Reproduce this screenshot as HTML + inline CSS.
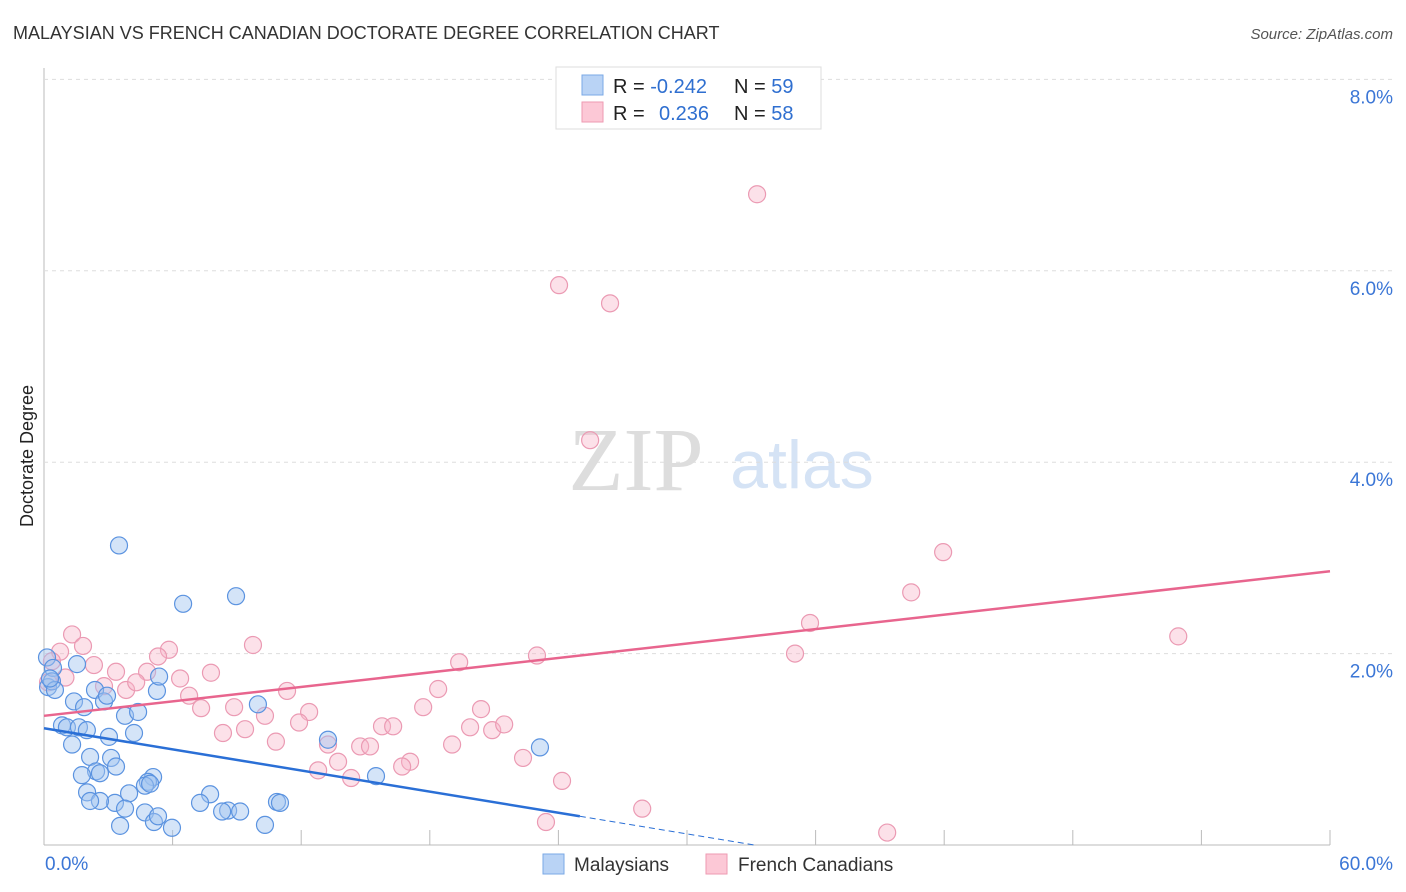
<!DOCTYPE html>
<html><head><meta charset="utf-8"><style>
body{margin:0;background:#fff;font-family:"Liberation Sans",sans-serif;}
#wrap{position:relative;width:1406px;height:892px;overflow:hidden}
</style></head><body>
<div id="wrap">
<svg id="svg" width="1406" height="892">
<text x="13" y="39" font-size="18" fill="#333">MALAYSIAN VS FRENCH CANADIAN DOCTORATE DEGREE CORRELATION CHART</text>
<text x="1393" y="39" font-size="15" fill="#555" font-style="italic" text-anchor="end">Source: ZipAtlas.com</text>
<text x="0" y="0" font-size="18" fill="#222" transform="translate(33,456) rotate(-90)" text-anchor="middle">Doctorate Degree</text>
<text x="636" y="490" font-size="90" fill="#ddd" font-family="Liberation Serif,serif" text-anchor="middle">ZIP</text>
<text x="802" y="488" font-size="68" fill="#d5e3f5" text-anchor="middle">atlas</text>
<g id="grid"></g><g id="pts"></g><g id="lines"></g>
<g>
<rect x="556" y="67" width="265" height="62" fill="#fff" stroke="#ddd"/>
<rect x="582" y="75" width="21" height="20" fill="#b9d3f5" stroke="#7aa8e6"/>
<rect x="582" y="102" width="21" height="20" fill="#fcc8d6" stroke="#ee9ab2"/>
<text x="613" y="93" font-size="20" fill="#222">R = <tspan fill="#2f6fd0">-0.242</tspan></text>
<text x="734" y="93" font-size="20" fill="#222">N = <tspan fill="#2f6fd0">59</tspan></text>
<text x="613" y="120" font-size="20" fill="#222">R = <tspan fill="#2f6fd0" x="659">0.236</tspan></text>
<text x="734" y="120" font-size="20" fill="#222">N = <tspan fill="#2f6fd0">58</tspan></text>
</g>
<g>
<rect x="543" y="854" width="21" height="20" fill="#b9d3f5" stroke="#7aa8e6"/>
<text x="574" y="871" font-size="19" fill="#333">Malaysians</text>
<rect x="706" y="854" width="21" height="20" fill="#fcc8d6" stroke="#ee9ab2"/>
<text x="738" y="871" font-size="19" fill="#333">French Canadians</text>
</g>
</svg>
</div>
<script>
const yTicks=[2,4,6,8];
const yTickLabels=["2.0%","4.0%","6.0%","8.0%"];
const xEndLabels=["0.0%","60.0%"];
const blueX=[0.14,0.42,0.19,0.37,0.51,1.54,0.28,3.5,6.49,8.96,2.38,1.40,2.8,2.94,1.87,5.27,5.37,3.78,4.39,0.84,1.07,1.63,1.31,3.03,4.2,2.15,3.13,3.36,2.43,2.61,1.77,5.09,4.85,4.71,4.95,2.01,3.97,7.75,3.31,2.61,2.15,3.78,4.71,7.28,8.59,8.31,9.15,10.87,11.01,9.98,13.25,15.49,23.14,3.55,5.13,5.97,10.31,5.32,2.0];
const blueY=[1.96,1.85,1.65,1.71,1.62,1.89,1.74,3.13,2.52,2.6,1.62,1.50,1.50,1.56,1.44,1.61,1.76,1.35,1.39,1.25,1.23,1.23,1.05,1.13,1.17,0.92,0.91,0.82,0.77,0.75,0.73,0.71,0.66,0.62,0.64,0.55,0.54,0.53,0.44,0.46,0.46,0.38,0.34,0.44,0.36,0.35,0.35,0.45,0.44,1.47,1.1,0.72,1.02,0.2,0.24,0.18,0.21,0.3,1.2];
const pinkX=[33.27,24.03,26.41,25.48,41.95,40.46,35.74,52.92,35.04,23,19.37,1.31,1.82,0.75,0.37,2.33,3.36,4.81,5.83,5.32,7.79,9.75,2.8,3.83,4.3,6.35,6.77,7.33,8.87,10.31,11.34,12.37,11.9,8.35,9.38,10.82,13.25,14.75,15.21,15.77,16.29,17.69,18.39,19.88,20.39,20.91,21.47,19.04,22.35,24.17,17.08,16.71,12.79,13.72,14.33,23.42,27.91,39.34,0.19,1.0];
const pinkY=[6.8,5.85,5.66,4.23,3.06,2.64,2.32,2.18,2.0,1.98,1.91,2.2,2.08,2.02,1.92,1.88,1.81,1.81,2.04,1.97,1.8,2.09,1.66,1.62,1.7,1.74,1.56,1.43,1.44,1.35,1.61,1.39,1.28,1.17,1.21,1.08,1.05,1.03,1.03,1.24,1.24,1.44,1.63,1.23,1.42,1.2,1.26,1.05,0.91,0.67,0.87,0.82,0.78,0.87,0.7,0.24,0.38,0.13,1.7,1.75];
const blueTrend=[0,1.22,25,0.30];
const pinkTrend=[0,1.35,60,2.86];
const X=v=>44+v*(1286/60), Y=v=>845-v*95.7;
const NS="http://www.w3.org/2000/svg";
function mk(t,a,p){const e=document.createElementNS(NS,t);for(const k in a)e.setAttribute(k,a[k]);p.appendChild(e);return e;}
const grid=document.getElementById('grid');
let ax=mk('line',{x1:44,y1:68,x2:44,y2:845,stroke:'#bbb'},grid);


let bx=mk('line',{x1:44,y1:845,x2:1330,y2:845,stroke:'#bbb'},grid);


yTicks.forEach((t,i)=>{
 const g=mk('line',{x1:44,y1:Y(t),x2:1395,y2:Y(t),stroke:'#ddd','stroke-dasharray':'4,4'},grid);
 
 
 const tx=mk('text',{x:1393,y:Y(t)+24,'font-size':19,fill:'#3b76d6','text-anchor':'end'},grid);
 tx.textContent=yTickLabels[i];
 
 
});
for(let i=1;i<=10;i++){
 const xp=44+i*128.6;
 const t=mk('line',{x1:xp,y1:830,x2:xp,y2:845,stroke:'#bbb'},grid);
 
 
}
[[0,'start',45],[60,'end',1393]].forEach((d,i)=>{
 const t=mk('text',{x:d[2],y:870,'font-size':19,fill:'#3b76d6','text-anchor':d[1]},grid);
 t.textContent=xEndLabels[i];
 
 
});
const pts=document.getElementById('pts');
pinkX.forEach((v,i)=>{
 const c=mk('circle',{cx:X(v),cy:Y(pinkY[i]),r:8.5,fill:'rgba(248,180,200,0.4)',stroke:'#eb9ab3','stroke-width':1.2},pts);
 
 
});
blueX.forEach((v,i)=>{
 const c=mk('circle',{cx:X(v),cy:Y(blueY[i]),r:8.5,fill:'rgba(160,196,240,0.45)',stroke:'#5b93e0','stroke-width':1.2},pts);
 
 
});
const lines=document.getElementById('lines');
const slope=(blueTrend[3]-blueTrend[1])/(blueTrend[2]-blueTrend[0]);
const bEnd=blueTrend[2];
let l=mk('line',{x1:X(0),y1:Y(blueTrend[1]),x2:X(bEnd),y2:Y(blueTrend[1]+slope*bEnd),stroke:'#2a6fd6','stroke-width':2.5},lines);


let l2=mk('line',{x1:X(bEnd),y1:Y(blueTrend[1]+slope*bEnd),x2:X(-blueTrend[1]/slope),y2:Y(0),stroke:'#2a6fd6','stroke-width':1,'stroke-dasharray':'6,4'},lines);


let l3=mk('line',{x1:X(pinkTrend[0]),y1:Y(pinkTrend[1]),x2:X(pinkTrend[2]),y2:Y(pinkTrend[3]),stroke:'#e8658e','stroke-width':2.5},lines);


</script>
</body></html>
